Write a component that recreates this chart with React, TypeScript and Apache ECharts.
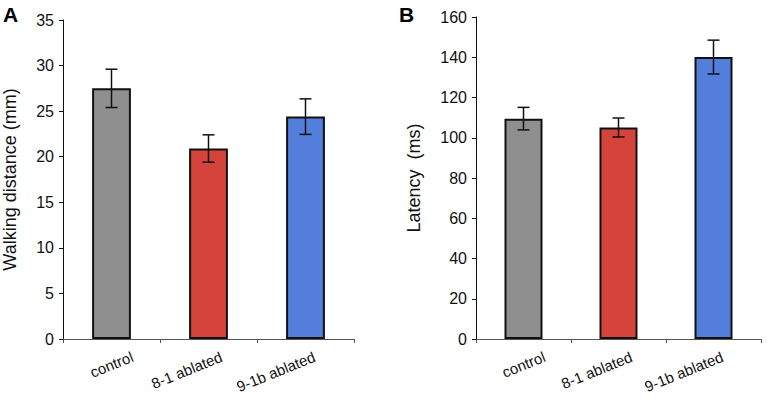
import React, { useEffect, useRef } from "react";
import * as echarts from "echarts";

const categories = ["control", "8-1 ablated", "9-1b ablated"];
const barColors = ["#8f8f8f", "#d4443a", "#537edb"];

const walkMean = [27.5, 20.9, 24.4];
const walkErr = [2.1, 1.5, 1.95];

const latMean = [109.5, 105.1, 140.1];
const latErr = [5.6, 4.7, 8.4];

const walkTicks = { min: 0, max: 35, interval: 5 };
const latTicks = { min: 0, max: 160, interval: 20 };

const FONT = "'Liberation Sans', Arial, Helvetica, sans-serif";

// layout: shift of each rotated category label's end from its category centre (Excel-like placement)
const labelShiftX = [21, 13, 9];
const labelDrop = 17;
const labelAngle = 22;

function errorSeries(means: number[], errs: number[], axisIndex: number) {
  return {
    type: "custom",
    xAxisIndex: axisIndex,
    yAxisIndex: axisIndex,
    z: 5,
    data: means.map((m, i) => [i, m + errs[i], m - errs[i]]),
    renderItem: (params: any, api: any) => {
      const x = api.value(0);
      const hi = api.coord([x, api.value(1)]);
      const lo = api.coord([x, api.value(2)]);
      const half = 6;
      const style = { stroke: "#111", lineWidth: 1.5 };
      return {
        type: "group",
        children: [
          { type: "line", shape: { x1: hi[0], y1: hi[1], x2: lo[0], y2: lo[1] }, style },
          { type: "line", shape: { x1: hi[0] - half, y1: hi[1], x2: hi[0] + half, y2: hi[1] }, style },
          { type: "line", shape: { x1: lo[0] - half, y1: lo[1], x2: lo[0] + half, y2: lo[1] }, style },
        ],
      };
    },
  };
}

function barSeries(means: number[], axisIndex: number) {
  return {
    type: "bar",
    xAxisIndex: axisIndex,
    yAxisIndex: axisIndex,
    barWidth: "40%",
    data: means.map((v, i) => ({
      value: v,
      itemStyle: { color: barColors[i], borderColor: "#111", borderWidth: 2 },
    })),
  };
}

function xAxis(gridIndex: number) {
  return {
    type: "category",
    gridIndex,
    data: categories,
    axisLine: { lineStyle: { color: "#555", width: 1 } },
    axisTick: { show: true, length: 4, lineStyle: { color: "#555" } },
    axisLabel: { show: false },
  };
}

function yAxis(gridIndex: number, t: any, name: string, gap: number) {
  return {
    type: "value",
    gridIndex,
    min: t.min,
    max: t.max,
    interval: t.interval,
    name,
    nameLocation: "middle",
    nameGap: gap,
    nameTextStyle: { color: "#111", fontSize: 18, fontFamily: FONT },
    axisLine: { show: true, lineStyle: { color: "#111", width: 1 } },
    axisTick: { show: true, length: 4, inside: false, lineStyle: { color: "#111" } },
    axisLabel: { margin: 9, color: "#111", fontSize: 16, fontFamily: FONT },
    splitLine: { show: false },
  };
}

export default function App() {
  const ref = useRef<HTMLDivElement>(null);
  useEffect(() => {
    if (!ref.current) return;
    const chart = echarts.init(ref.current, undefined, { renderer: "svg" });
    const panelLetters: any[] = [
      { type: "text", x: 3, y: 4, style: { text: "A", fontSize: 21, fontWeight: "bold", fontFamily: FONT, fill: "#000" } },
      { type: "text", x: 399, y: 4, style: { text: "B", fontSize: 21, fontWeight: "bold", fontFamily: FONT, fill: "#000" } },
    ];
    chart.setOption({
      animation: false,
      backgroundColor: "#ffffff",
      grid: [
        { left: 61, top: 20, width: 293, height: 319 },
        { left: 476, top: 17, width: 285, height: 322 },
      ],
      xAxis: [xAxis(0), xAxis(1)],
      yAxis: [
        yAxis(0, walkTicks, "Walking distance (mm)", 44),
        yAxis(1, latTicks, "Latency  (ms)", 53),
      ],
      graphic: panelLetters,
      series: [
        barSeries(walkMean, 0),
        errorSeries(walkMean, walkErr, 0),
        barSeries(latMean, 1),
        errorSeries(latMean, latErr, 1),
      ],
    });

    // rotated category labels, placed through the axes' own scales
    const labels: any[] = [];
    [0, 1].forEach((ax) => {
      const base = chart.convertToPixel({ yAxisIndex: ax }, 0) as number;
      categories.forEach((c, i) => {
        const cx = chart.convertToPixel({ xAxisIndex: ax }, i) as number;
        labels.push({
          type: "text",
          x: cx + labelShiftX[i],
          y: base + labelDrop,
          rotation: (labelAngle * Math.PI) / 180,
          style: {
            text: c,
            align: "right",
            verticalAlign: "middle",
            fontSize: 15,
            fontFamily: FONT,
            fill: "#111",
          },
        });
      });
    });
    chart.setOption({ graphic: [...panelLetters, ...labels] });
    return () => chart.dispose();
  }, []);
  return (
    <div
      ref={ref}
      style={{ position: "fixed", left: 0, top: 0, width: 767, height: 401 }}
    />
  );
}
